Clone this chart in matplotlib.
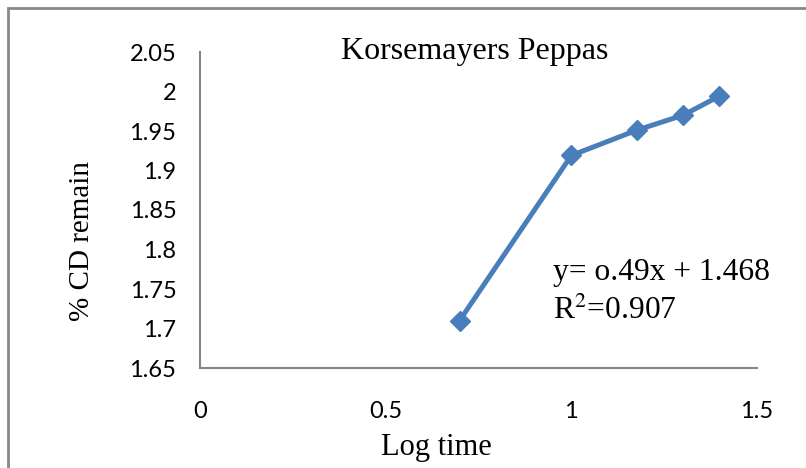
import numpy as np
import matplotlib.pyplot as plt
from matplotlib.patches import Rectangle

# datos
log_time = [0.699, 1.0, 1.176, 1.301, 1.398]
cd_remain = [1.710, 1.919, 1.951, 1.970, 1.994]
x_ticks = [0, 0.5, 1, 1.5]
x_tick_labels = ["0", "0.5", "1", "1.5"]
y_ticks = [1.65, 1.7, 1.75, 1.8, 1.85, 1.9, 1.95, 2.0, 2.05]
y_tick_labels = ["1.65", "1.7", "1.75", "1.8", "1.85", "1.9", "1.95", "2", "2.05"]

W, H = 806, 468
fig = plt.figure(figsize=(W / 100, H / 100), dpi=100)

# marco exterior (solo se ve izquierda y arriba)
fig.patches.append(Rectangle((8 / W, -0.2), 1.2, 1.2 - 8 / H, transform=fig.transFigure,
                             fill=False, edgecolor="#888888", linewidth=2.0))

ax = fig.add_axes([200 / W, 1 - 368 / H, (757 - 200) / W, (368 - 52) / H])
ax.plot(log_time, cd_remain, color="#4A7EBB", linewidth=3.6, marker="D",
        markersize=10, markerfacecolor="#4A7EBB", markeredgecolor="#4A7EBB")

ax.set_xlim(0, 1.5)
ax.set_ylim(1.65, 2.05)
ax.set_xticks(x_ticks)
ax.set_xticklabels(x_tick_labels)
ax.set_yticks(y_ticks)
ax.set_yticklabels(y_tick_labels)
ax.tick_params(axis="both", length=0, labelsize=17, colors="black")
ax.tick_params(axis="y", pad=17)
ax.tick_params(axis="x", pad=24)
for lab in ax.get_xticklabels() + ax.get_yticklabels():
    lab.set_family("Lato")

for s in ["top", "right"]:
    ax.spines[s].set_visible(False)
for s in ["left", "bottom"]:
    ax.spines[s].set_color("#868686")
    ax.spines[s].set_linewidth(1.5)

serif = "Liberation Serif"
fig.text(475 / W, 1 - 59 / H, "Korsemayers Peppas", family=serif, fontsize=23,
         ha="center", va="baseline")
fig.text(436 / W, 1 - 455 / H, "Log time", family=serif, fontsize=22,
         ha="center", va="baseline")
fig.text(82 / W, 1 - 241 / H, "% CD remain", family=serif, fontsize=21,
         ha="center", va="center", rotation=90)
fig.text(553 / W, 1 - 280 / H, "y= o.49x + 1.468", family=serif, fontsize=22.7,
         ha="left", va="baseline")
fig.text(553 / W, 1 - 319 / H, "R$^{2}$=0.907", family=serif, fontsize=22.7,
         ha="left", va="baseline", math_fontfamily="stix")

fig.savefig("out.png", dpi=100)
